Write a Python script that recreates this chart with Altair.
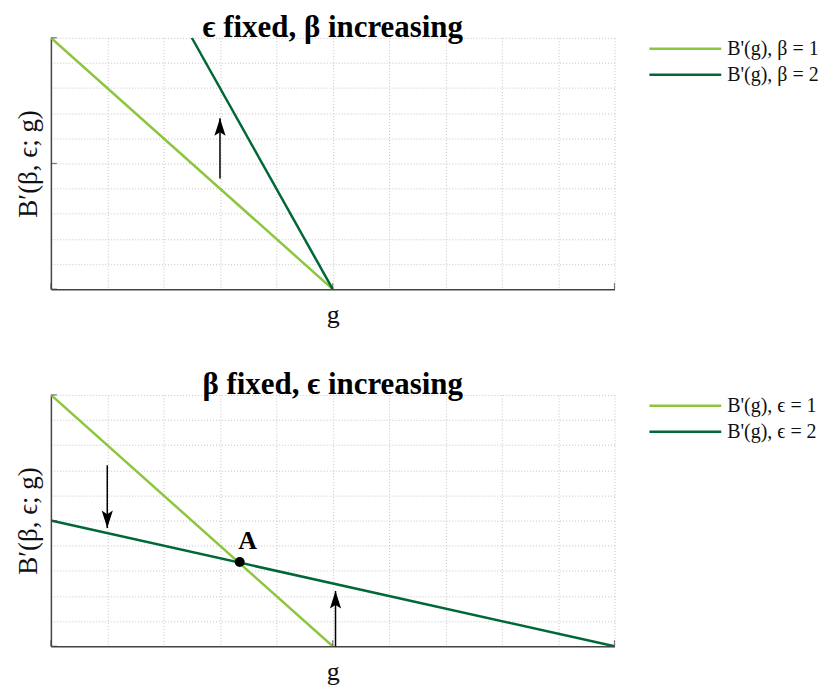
import altair as alt
import pandas as pd

LIGHT = "#8CC63F"
DARK = "#006837"
SERIF = "Liberation Serif"

# ---- data ----
top_series = ["B'(g), β = 1", "B'(g), β = 2"]
top_g1 = [0.0, 1.0]
top_v1 = [2.0, 0.0]
top_g2 = [0.5, 1.0]
top_v2 = [2.0, 0.0]

bot_series = ["B'(g), ϵ = 1", "B'(g), ϵ = 2"]
bot_g1 = [0.0, 1.0]
bot_v1 = [2.0, 0.0]
bot_g2 = [0.0, 2.0]
bot_v2 = [1.0, 0.0]

grid_values = [0.0, 0.2, 0.4, 0.6, 0.8, 1.0, 1.2, 1.4, 1.6, 1.8, 2.0]
tick_values = [0.0, 1.0, 2.0]

top_arrow_g = [0.6]
top_arrow_from = [0.88]
top_arrow_to = [1.36]
top_arrow_dir = ["up"]

bot_arrow_g = [0.2, 1.01]
bot_arrow_from = [1.44, 0.0]
bot_arrow_to = [0.94, 0.44]
bot_arrow_dir = ["down", "up"]

point_g = [0.67]
point_v = [0.67]
point_label = ["A"]

W, H = 565, 252

UP_HEAD = "M0,0 L0.7,2.2 L0,1.75 L-0.7,2.2 Z"
DOWN_HEAD = "M0,0 L0.7,-2.2 L0,-1.75 L-0.7,-2.2 Z"
LEGEND_LINE = "M-1,0 L11,0"


def lines_df(series, g1, v1, g2, v2):
    rows = []
    for g, v in zip(g1, v1):
        rows.append({"series": series[0], "g": g, "v": v})
    for g, v in zip(g2, v2):
        rows.append({"series": series[1], "g": g, "v": v})
    return pd.DataFrame(rows)


def panel(title, series, df, arr_g, arr_from, arr_to, arr_dir, with_point=False):
    xs = alt.Scale(domain=[0, 2], nice=False, zero=False)
    ys = alt.Scale(domain=[0, 2], nice=False, zero=False)
    common = dict(values=grid_values, grid=True, ticks=False, labels=False,
                  titleFont=SERIF, titleFontWeight="normal",
                  titleColor="#111", domainColor="#444", domainWidth=1.5,
                  gridColor="#c4c4c4", gridDash=[1, 2], gridWidth=1)
    xaxis = alt.Axis(title="g", titlePadding=12, titleFontSize=26, **common)
    yaxis = alt.Axis(title="B′(β, ϵ; g)", titlePadding=8, titleFontSize=27, **common)

    def X(f):
        return alt.X(f, scale=xs, axis=xaxis)

    def Y(f):
        return alt.Y(f, scale=ys, axis=yaxis)

    lines = alt.Chart(df).mark_line(strokeWidth=2.5, clip=True).encode(
        x=X("g:Q"),
        y=Y("v:Q"),
        color=alt.Color("series:N",
                        scale=alt.Scale(domain=series, range=[LIGHT, DARK]),
                        legend=alt.Legend(title=None, orient="none",
                                          legendX=W + 31, legendY=1,
                                          symbolType=LEGEND_LINE, symbolSize=144,
                                          symbolStrokeWidth=2.5,
                                          symbolFillColor="transparent",
                                          labelFont=SERIF, labelFontSize=20,
                                          labelColor="#111", labelLimit=300,
                                          labelOffset=62, rowPadding=6,
                                          padding=0)),
        order=alt.Order("g:Q"),
    )

    ytick_df = pd.DataFrame({"g": [0.0] * len(tick_values), "v": tick_values})
    xtick_df = pd.DataFrame({"g": tick_values, "v": [0.0] * len(tick_values)})
    yticks = alt.Chart(ytick_df).mark_tick(orient="horizontal", size=6, thickness=1.2,
                                           xOffset=3, color="#444").encode(
        x=X("g:Q"), y=Y("v:Q"))
    xticks = alt.Chart(xtick_df).mark_tick(orient="vertical", size=6, thickness=1.2,
                                           yOffset=-3, color="#444").encode(
        x=X("g:Q"), y=Y("v:Q"))

    adf = pd.DataFrame({"g": arr_g, "y0": arr_from, "y1": arr_to, "dir": arr_dir})
    shafts = alt.Chart(adf).mark_rule(color="black", strokeWidth=1.5).encode(
        x=X("g:Q"), y=Y("y0:Q"), y2="y1:Q")
    heads_up = alt.Chart(adf[adf["dir"] == "up"]).mark_point(
        shape=UP_HEAD, size=256, filled=True, color="black", opacity=1, strokeWidth=0).encode(
        x=X("g:Q"), y=Y("y1:Q"))
    heads_down = alt.Chart(adf[adf["dir"] == "down"]).mark_point(
        shape=DOWN_HEAD, size=256, filled=True, color="black", opacity=1, strokeWidth=0).encode(
        x=X("g:Q"), y=Y("y1:Q"))

    layers = [lines, yticks, xticks, shafts]
    if (adf["dir"] == "up").any():
        layers.append(heads_up)
    if (adf["dir"] == "down").any():
        layers.append(heads_down)

    if with_point:
        pdf = pd.DataFrame({"g": point_g, "v": point_v, "label": point_label})
        pt = alt.Chart(pdf).mark_point(filled=True, size=100, color="black",
                                       opacity=1).encode(x=X("g:Q"), y=Y("v:Q"))
        txt = alt.Chart(pdf).mark_text(font=SERIF, fontSize=26, fontWeight="bold",
                                       dx=8, dy=-21, color="black").encode(
            x=X("g:Q"), y=Y("v:Q"), text="label:N")
        layers += [pt, txt]

    return alt.layer(*layers).properties(
        width=W, height=H,
        title=alt.TitleParams(title, font=SERIF, fontSize=31, fontWeight="bold",
                              color="black", anchor="middle", offset=-12,
                              baseline="line-top", lineHeight=20),
    )


top = panel("ϵ fixed, β increasing", top_series,
            lines_df(top_series, top_g1, top_v1, top_g2, top_v2),
            top_arrow_g, top_arrow_from, top_arrow_to, top_arrow_dir)
bot = panel("β fixed, ϵ increasing", bot_series,
            lines_df(bot_series, bot_g1, bot_v1, bot_g2, bot_v2),
            bot_arrow_g, bot_arrow_from, bot_arrow_to, bot_arrow_dir, with_point=True)

chart = alt.vconcat(top, bot, spacing=42).resolve_scale(color="independent").properties(
    padding={"left": 7, "top": 3, "right": 0, "bottom": 0}
).configure_view(stroke=None)

chart.save("out.html", embed_options={"renderer": "svg", "actions": False})
